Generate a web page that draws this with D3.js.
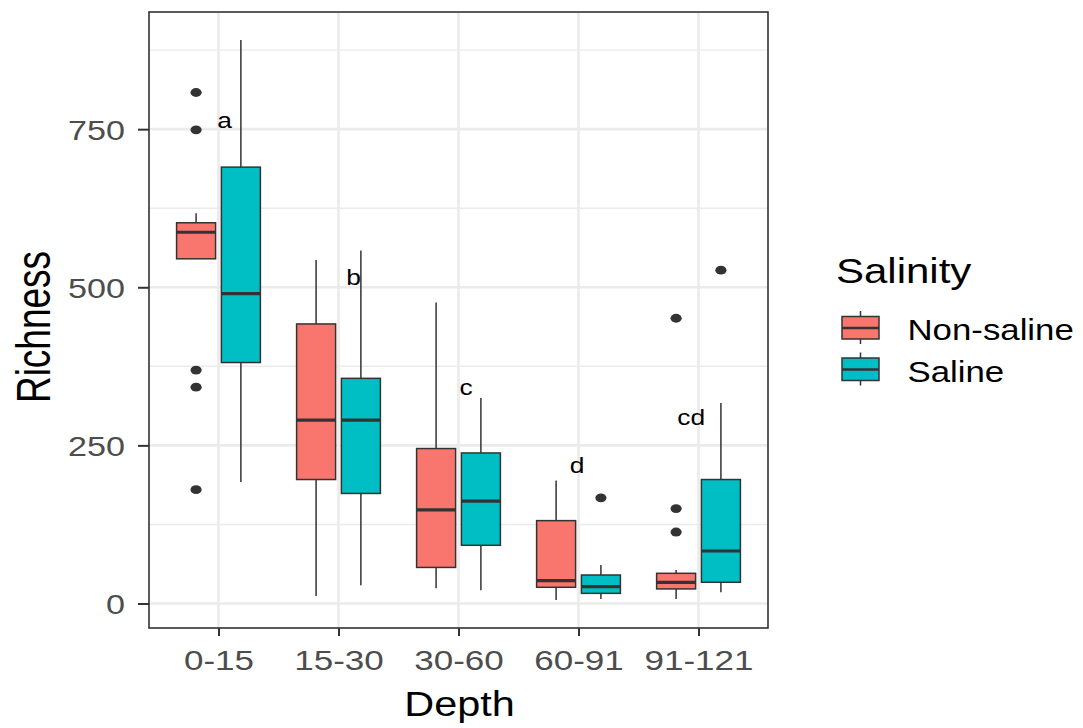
<!DOCTYPE html>
<html>
<head>
<meta charset="utf-8">
<script src="https://cdn.jsdelivr.net/npm/d3@7/dist/d3.min.js"></script>
<style>
  html, body { margin: 0; padding: 0; background: #ffffff; }
  svg { display: block; }
  text { font-family: "Liberation Sans", Arial, sans-serif; }
</style>
</head>
<body>
<svg id="chart" width="1083" height="728"></svg>
<script>
// ---------------- data ----------------
const depths = ["0-15", "15-30", "30-60", "60-91", "91-121"];
const groups = ["Non-saline", "Saline"];
const groupColors = ["#F8766D", "#00BFC4"];

// Non-saline box statistics per depth
const nsWhiskerLow  = [545, 12, 24, 5.5, 7];
const nsQ1          = [545, 196, 57, 25.6, 23];
const nsMedian      = [587, 290, 148, 36, 33.5];
const nsQ3          = [602, 442, 245, 131, 47.7];
const nsWhiskerHigh = [617, 543, 476, 194.5, 53];
const nsOutliers    = [[808, 749, 369, 342, 180], [], [], [], [451, 150, 113]];

// Saline box statistics per depth
const sWhiskerLow  = [192, 29, 21, 7, 17.7];
const sQ1          = [381, 174, 92, 16, 33.5];
const sMedian      = [490, 290, 162, 26.5, 83];
const sQ3          = [690, 356, 238, 45, 196];
const sWhiskerHigh = [891, 558, 325, 61, 317];
const sOutliers    = [[], [], [], [167], [527]];

// Significance letters
const letters   = ["a", "b", "c", "d", "cd"];
const letterPos = [1.05, 2.125, 3.064, 3.988, 4.939];   // position along the depth axis (1 = first category)
const letterVal = [752, 503, 330, 206, 282];             // Richness value at the letter baseline

const yTicks = [0, 250, 500, 750];
const yMinor = [125, 375, 625, 875];

// ---------------- build table ----------------
const boxes = [];
depths.forEach((d, i) => {
  boxes.push({ depth: d, group: groups[0], lo: nsWhiskerLow[i], q1: nsQ1[i], med: nsMedian[i], q3: nsQ3[i], hi: nsWhiskerHigh[i], out: nsOutliers[i] });
  boxes.push({ depth: d, group: groups[1], lo: sWhiskerLow[i], q1: sQ1[i], med: sMedian[i], q3: sQ3[i], hi: sWhiskerHigh[i], out: sOutliers[i] });
});

// ---------------- layout ----------------
const svg = d3.select("#chart");
const P = { left: 149, right: 768, top: 12, bottom: 628 };
const FONT = '"Liberation Sans", Arial, sans-serif';

const allVals = boxes.flatMap(b => [b.lo, b.hi, ...b.out]);
const [vmin, vmax] = d3.extent(allVals);
const pad = (vmax - vmin) * 0.05;

const y = d3.scaleLinear().domain([vmin - pad, vmax + pad]).range([P.bottom, P.top]);
const x = d3.scalePoint().domain(depths).range([P.left, P.right]).padding(0.579);
const xNum = d3.scaleLinear().domain([1, depths.length]).range([x(depths[0]), x(depths[depths.length - 1])]);
const dodge = d3.scaleBand().domain(groups).range([-44.8, 44.8]);
const color = d3.scaleOrdinal().domain(groups).range(groupColors);
const boxW = 39;

// grid
const grid = svg.append("g");
grid.selectAll(".minor").data(yMinor).join("line")
  .attr("x1", P.left).attr("x2", P.right)
  .attr("y1", d => y(d)).attr("y2", d => y(d))
  .attr("stroke", "#ebebeb").attr("stroke-width", 1.4);
grid.selectAll(".major").data(yTicks).join("line")
  .attr("x1", P.left).attr("x2", P.right)
  .attr("y1", d => y(d)).attr("y2", d => y(d))
  .attr("stroke", "#ebebeb").attr("stroke-width", 2.6);
grid.selectAll(".vmajor").data(depths).join("line")
  .attr("x1", d => x(d)).attr("x2", d => x(d))
  .attr("y1", P.top).attr("y2", P.bottom)
  .attr("stroke", "#ebebeb").attr("stroke-width", 2.6);

// boxes
const bx = b => x(b.depth) + dodge(b.group) + dodge.bandwidth() / 2;
const g = svg.append("g");
const bg = g.selectAll("g.box").data(boxes).join("g");

bg.append("line")
  .attr("x1", bx).attr("x2", bx)
  .attr("y1", b => y(b.q3)).attr("y2", b => y(b.hi))
  .attr("stroke", "#333").attr("stroke-width", 1.5);
bg.append("line")
  .attr("x1", bx).attr("x2", bx)
  .attr("y1", b => y(b.q1)).attr("y2", b => y(b.lo))
  .attr("stroke", "#333").attr("stroke-width", 1.5);
bg.append("rect")
  .attr("x", b => bx(b) - boxW / 2).attr("width", boxW)
  .attr("y", b => y(b.q3)).attr("height", b => y(b.q1) - y(b.q3))
  .attr("fill", b => color(b.group))
  .attr("stroke", "#333").attr("stroke-width", 1.5);
bg.append("line")
  .attr("x1", b => bx(b) - boxW / 2).attr("x2", b => bx(b) + boxW / 2)
  .attr("y1", b => y(b.med)).attr("y2", b => y(b.med))
  .attr("stroke", "#333").attr("stroke-width", 3.2);
bg.selectAll("ellipse").data(b => b.out.map(v => ({ v, b }))).join("ellipse")
  .attr("cx", d => bx(d.b)).attr("cy", d => y(d.v))
  .attr("rx", 5.6).attr("ry", 4.4)
  .attr("fill", "#333");

// letters
svg.append("g").selectAll("text").data(letters).join("text")
  .attr("transform", (d, i) => `translate(${xNum(letterPos[i])},${y(letterVal[i])}) scale(1.2,1)`)
  .attr("text-anchor", "middle")
  .attr("font-size", 22)
  .attr("fill", "#000")
  .text(d => d);

// panel border
svg.append("rect")
  .attr("x", P.left).attr("y", P.top)
  .attr("width", P.right - P.left).attr("height", P.bottom - P.top)
  .attr("fill", "none").attr("stroke", "#333").attr("stroke-width", 1.6);

// axes
const yAxis = svg.append("g").attr("transform", `translate(${P.left},0)`)
  .call(d3.axisLeft(y).tickValues(yTicks).tickSize(11).tickPadding(13));
yAxis.select(".domain").remove();
yAxis.selectAll(".tick line").attr("stroke", "#333").attr("stroke-width", 2);
yAxis.selectAll(".tick text")
  .attr("x", null).attr("dy", null)
  .attr("transform", "translate(-24,10) scale(1.22,1)")
  .attr("font-size", 28).attr("font-family", FONT).attr("fill", "#4d4d4d");

const xAxis = svg.append("g").attr("transform", `translate(0,${P.bottom})`)
  .call(d3.axisBottom(x).tickSize(8).tickPadding(14));
xAxis.select(".domain").remove();
xAxis.selectAll(".tick line").attr("stroke", "#333").attr("stroke-width", 2);
xAxis.selectAll(".tick text")
  .attr("y", null).attr("dy", null)
  .attr("transform", "translate(0,42) scale(1.25,1)")
  .attr("font-size", 28).attr("font-family", FONT).attr("fill", "#4d4d4d");

// axis titles
svg.append("text")
  .attr("transform", `translate(${(P.left + P.right) / 2 + 1},716) scale(1.15,1)`)
  .attr("text-anchor", "middle").attr("font-size", 36).attr("fill", "#000")
  .text("Depth");
svg.append("text")
  .attr("transform", "translate(50,327) rotate(-90) scale(1,1.3)")
  .attr("text-anchor", "middle").attr("font-size", 37).attr("fill", "#000")
  .text("Richness");

// legend
const leg = svg.append("g");
leg.append("text")
  .attr("transform", "translate(836,283) scale(1.2,1)")
  .attr("font-size", 35).attr("fill", "#000")
  .text("Salinity");
const keyH = 41.5;
const items = leg.selectAll("g.item").data(groups).join("g")
  .attr("transform", (d, i) => `translate(860.5,${328 + i * keyH})`);
items.append("line").attr("x1", 0).attr("x2", 0).attr("y1", -17).attr("y2", 16)
  .attr("stroke", "#333").attr("stroke-width", 1.5);
items.append("rect").attr("x", -18.5).attr("y", -11.5).attr("width", 37).attr("height", 22.5)
  .attr("fill", d => color(d)).attr("stroke", "#333").attr("stroke-width", 1.5);
items.append("line").attr("x1", -18.5).attr("x2", 18.5).attr("y1", 0).attr("y2", 0)
  .attr("stroke", "#333").attr("stroke-width", 2.4);
items.append("text")
  .attr("transform", "translate(47,12) scale(1.2,1)")
  .attr("font-size", 29).attr("fill", "#000")
  .text(d => d);
</script>
</body>
</html>
